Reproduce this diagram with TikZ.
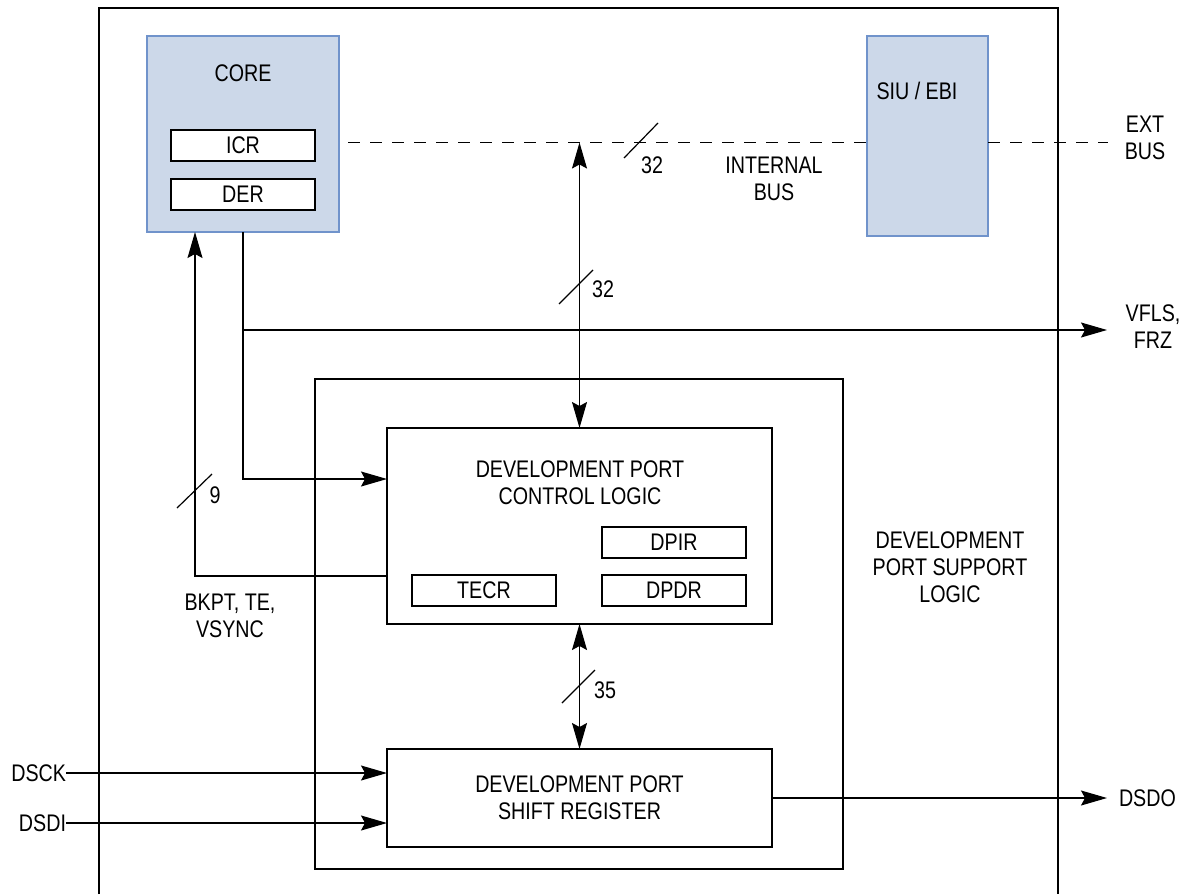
\documentclass[tikz,border=0pt]{standalone}
\usepackage{fontspec}
\setmainfont{Liberation Sans}[FakeStretch=0.82]
\usetikzlibrary{arrows.meta, positioning}

\definecolor{coreblue}{HTML}{CCD8E9}
\definecolor{coreedge}{HTML}{7093CB}

\begin{document}
\begin{tikzpicture}[
      x=1pt, y=-1pt,
      line width=1.2pt,
      font=\fontsize{24}{27}\selectfont,
      inner sep=0pt, outer sep=0pt,
      unit/.style={rectangle, draw=coreedge, fill=coreblue},
      block/.style={rectangle, draw, fill=white, minimum width=385pt, align=center},
      reg/.style={rectangle, draw, fill=white, minimum width=144pt, minimum height=31pt},
      txt/.style={align=center},
      sig/.style={-{Stealth[length=26pt,width=15pt,inset=4pt]}},
      bidir/.style={{Stealth[length=26pt,width=15pt,inset=4pt]}-{Stealth[length=26pt,width=15pt,inset=4pt]}},
      bus/.style={dash pattern=on 12pt off 10pt}
    ]
    \useasboundingbox (0,0) rectangle (1183,894);

    % chip outline
    \draw (99,894) |- (1058,8) -- (1058,894);

    \node[unit, minimum width=192pt, minimum height=196pt] (core) at (243,134) {};
    \node (coretxt) at (243,73.5) {CORE};
    \node[reg] (icr) at (243,145.5) {ICR};
    \node[reg, below=18pt of icr] (der) {DER};

    \node[unit, minimum width=121pt, minimum height=200pt] (siu) at (927.5,136) {};
    \node (siutxt) at (917,91) {SIU / EBI};

    \node[draw, minimum width=528pt, minimum height=490pt] (support) at (579,624) {};
    \node[txt] (supporttxt) at (950,567) {DEVELOPMENT\\PORT SUPPORT\\LOGIC};

    \node[block, minimum height=196pt] (ctrl) at (579.5,526) {};
    \node[txt] (ctrltxt) at (580,483) {DEVELOPMENT PORT\\CONTROL LOGIC};
    \node[reg] (dpir) at (674,542.5) {DPIR};
    \node[reg] (dpdr) at (674,590.5) {DPDR};
    \node[reg] (tecr) at (484,590.5) {TECR};

    \node[block, minimum height=98pt] (shift) at (579.5,798) {DEVELOPMENT PORT\\SHIFT REGISTER};

    % internal and external bus
    \coordinate (busL) at (348,142.5);
    \coordinate (extbus) at (1108,142.5);
    \draw[bus] (busL) -- (busL -| siu.west);
    \draw[bus] (siu.east |- extbus) -- (extbus);
    \draw (624,158) -- (658,123);
    \node (w32a) at (652,165) {32};
    \node[txt] (intbus) at (774,179) {INTERNAL\\BUS};
    \node[txt] (extbustxt) at (1145,138) {EXT\\BUS};

    \draw[bidir] (ctrl.north |- busL) -- (ctrl.north);
    \draw (559,304) -- (593,270);
    \node (w32b) at (603,289) {32};

    % core signals
    \coordinate (vfls) at (1107,330);
    \draw[sig] (core.south) |- ([yshift=47pt]ctrl.west);
    \draw[sig] (core.south |- vfls) -- (vfls);
    \node[txt] (vflstxt) at (1153,327) {VFLS,\\FRZ};

    \draw[sig] ([yshift=-50pt]ctrl.west) -| ([xshift=-48pt]core.south);
    \draw (177,508) -- (212,474);
    \node (w9) at (215,495) {9};
    \node[txt] (bkpt) at (230,616) {BKPT, TE,\\VSYNC};

    \draw[bidir] (ctrl.south) -- (shift.north);
    \draw (562,703) -- (595,670);
    \node (w35) at (605,690) {35};

    % serial port
    \node[anchor=east] (dsck) at (66,773) {DSCK};
    \node[anchor=east] (dsdi) at (66,823) {DSDI};
    \node[anchor=west] (dsdo) at (1119,798) {DSDO};
    \draw[sig] (dsck.east) -- (dsck.east -| shift.west);
    \draw[sig] (dsdi.east) -- (dsdi.east -| shift.west);
    \draw[sig] (shift.east) -- ([xshift=-12pt]shift.east -| dsdo.west);
  \end{tikzpicture}
\end{document}
